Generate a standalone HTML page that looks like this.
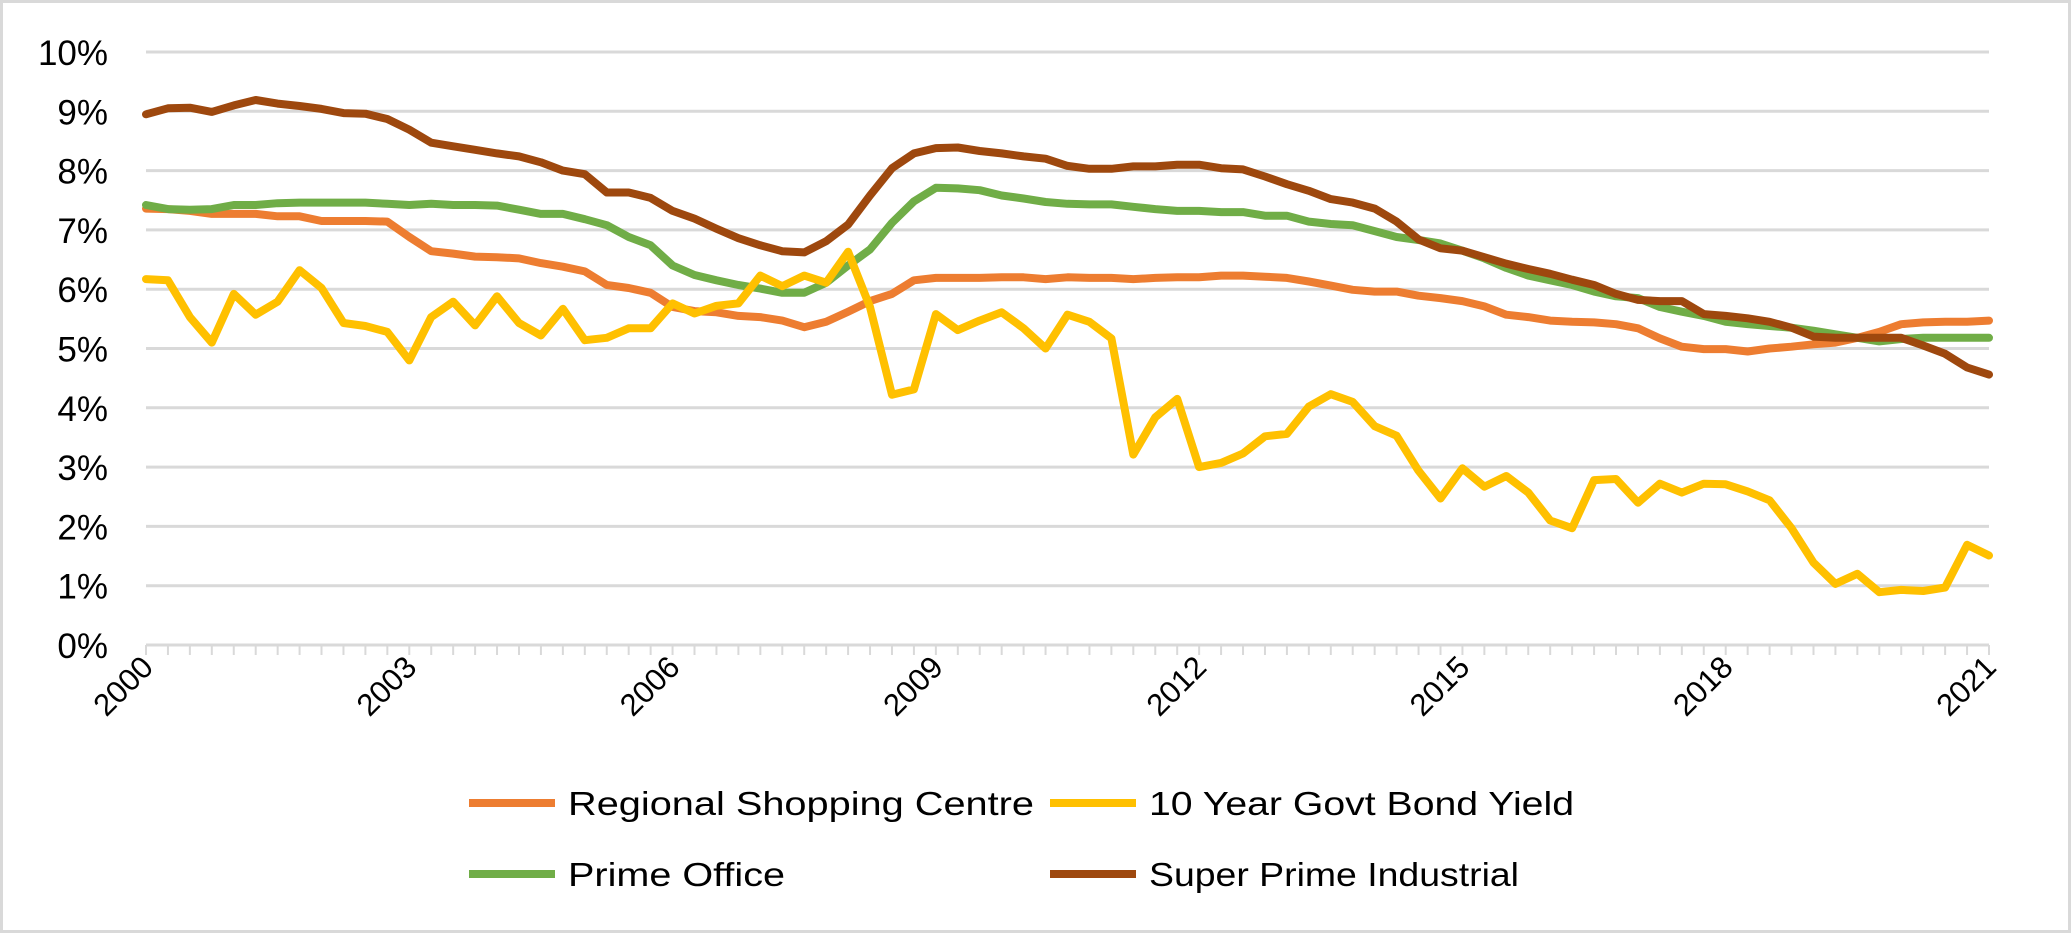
<!DOCTYPE html>
<html><head><meta charset="utf-8"><style>
html,body{margin:0;padding:0;background:#fff;}
svg{display:block;font-family:"Liberation Sans","DejaVu Sans",sans-serif;}
</style></head><body>
<svg id="chart" width="2071" height="933" viewBox="0 0 2071 933" xmlns="http://www.w3.org/2000/svg">
<rect x="1.5" y="1.5" width="2068" height="930" fill="#fff" stroke="#d9d9d9" stroke-width="3"/>
<g id="grid"></g><g id="axes"></g><g id="lines"></g><g id="legend"></g>
</svg>
<script>
const yTicks = [0,1,2,3,4,5,6,7,8,9,10];
const yearLabels = ["2000","2003","2006","2009","2012","2015","2018","2021"];
const seriesNames = ["Regional Shopping Centre","10 Year Govt Bond Yield","Prime Office","Super Prime Industrial"];
const regional = [7.36,7.35,7.32,7.27,7.27,7.27,7.23,7.23,7.15,7.15,7.15,7.14,6.88,6.64,6.6,6.55,6.54,6.52,6.44,6.38,6.3,6.07,6.02,5.94,5.7,5.63,5.61,5.55,5.53,5.47,5.36,5.45,5.62,5.8,5.92,6.15,6.19,6.19,6.19,6.2,6.2,6.17,6.2,6.19,6.19,6.17,6.19,6.2,6.2,6.23,6.23,6.21,6.19,6.13,6.06,5.99,5.96,5.96,5.89,5.85,5.8,5.71,5.57,5.53,5.47,5.45,5.44,5.41,5.34,5.17,5.03,4.99,4.99,4.95,5.0,5.03,5.07,5.1,5.18,5.28,5.41,5.44,5.45,5.45,5.47];
const bond = [6.17,6.15,5.53,5.1,5.92,5.57,5.79,6.32,6.02,5.43,5.38,5.28,4.8,5.53,5.79,5.39,5.88,5.43,5.22,5.67,5.14,5.18,5.34,5.34,5.76,5.59,5.72,5.76,6.23,6.05,6.23,6.11,6.63,5.7,4.22,4.31,5.58,5.31,5.47,5.61,5.34,5.0,5.57,5.45,5.17,3.21,3.84,4.15,3.0,3.07,3.23,3.52,3.56,4.02,4.23,4.1,3.69,3.53,2.94,2.47,2.98,2.67,2.85,2.57,2.1,1.97,2.78,2.8,2.4,2.72,2.57,2.72,2.71,2.59,2.44,1.97,1.39,1.03,1.2,0.89,0.93,0.91,0.97,1.69,1.51];
const office = [7.42,7.35,7.34,7.35,7.42,7.42,7.45,7.46,7.46,7.46,7.46,7.44,7.42,7.44,7.42,7.42,7.41,7.34,7.27,7.27,7.18,7.08,6.88,6.74,6.4,6.24,6.15,6.07,6.01,5.94,5.94,6.11,6.4,6.67,7.12,7.48,7.71,7.7,7.67,7.58,7.53,7.47,7.44,7.43,7.43,7.39,7.35,7.32,7.32,7.3,7.3,7.24,7.24,7.14,7.1,7.08,6.98,6.88,6.83,6.77,6.65,6.52,6.36,6.23,6.15,6.07,5.96,5.88,5.85,5.7,5.62,5.55,5.45,5.41,5.38,5.35,5.3,5.24,5.18,5.12,5.16,5.18,5.18,5.18,5.18];
const industrial = [8.95,9.05,9.06,8.99,9.1,9.19,9.13,9.09,9.04,8.97,8.96,8.87,8.69,8.47,8.41,8.35,8.29,8.24,8.14,8.0,7.94,7.63,7.63,7.54,7.32,7.19,7.02,6.86,6.74,6.64,6.62,6.81,7.09,7.58,8.04,8.29,8.38,8.39,8.33,8.29,8.24,8.2,8.08,8.03,8.03,8.07,8.07,8.1,8.1,8.04,8.02,7.9,7.77,7.66,7.52,7.46,7.36,7.14,6.84,6.69,6.65,6.54,6.43,6.34,6.26,6.16,6.07,5.92,5.82,5.8,5.8,5.58,5.55,5.51,5.45,5.35,5.2,5.18,5.18,5.18,5.18,5.05,4.91,4.68,4.56];

const NS="http://www.w3.org/2000/svg";
const X0=146, X1=1989, Y0=645, Y1=52, N=84;
function xs(i){return X0+(X1-X0)*i/N;}
function ys(v){return Y0-(Y0-Y1)*v/10;}
function mk(tag,attrs,parent){const e=document.createElementNS(NS,tag);for(const k in attrs)e.setAttribute(k,attrs[k]);parent.appendChild(e);return e;}
const grid=document.getElementById('grid'), axes=document.getElementById('axes'), lines=document.getElementById('lines'), legend=document.getElementById('legend');

yTicks.forEach(t=>{
  if(t>0){const g=mk('line',{x1:X0,x2:X1,y1:ys(t),y2:ys(t),stroke:'#d9d9d9','stroke-width':3},grid);
  
  }
  const l=mk('text',{x:108,y:ys(t)+13,'text-anchor':'end','font-size':35,fill:'#000'},axes);
  l.textContent=t+'%';
  
  
});
const ax=mk('line',{x1:X0,x2:X1,y1:Y0,y2:Y0,stroke:'#d9d9d9','stroke-width':3},axes);


for(let i=0;i<=N;i++){
  const tk=mk('line',{x1:xs(i),x2:xs(i),y1:Y0,y2:Y0+10,stroke:'#d9d9d9','stroke-width':2},axes);
  
  
}
yearLabels.forEach((lab,k)=>{
  const x=xs(k*12);
  const t=mk('text',{'text-anchor':'end','font-size':31,fill:'#000',transform:`translate(${x+9},${Y0+24}) rotate(-45)`},axes);
  t.textContent=lab;
  
  
});

const series=[regional,bond,office,industrial];
const colors=['#ED7D31','#FFC000','#70AD47','#9E480E'];
const keys=['regional-shopping-centre','govt-bond-yield','prime-office','super-prime-industrial'];
[0,2,3,1].forEach(s=>{
  const d=series[s].map((v,i)=>(i?'L':'M')+xs(i).toFixed(1)+','+ys(v).toFixed(1)).join(' ');
  const p=mk('path',{d:d,fill:'none',stroke:colors[s],'stroke-width':8,'stroke-linejoin':'round','stroke-linecap':'round'},lines);
  
  
});

const legPos=[[469,803],[1050,803],[469,874],[1050,874]];
const legW=[466,425,217,370];
legPos.forEach((p,s)=>{
  const l=mk('line',{x1:p[0],x2:p[0]+86,y1:p[1],y2:p[1],stroke:colors[s],'stroke-width':8},legend);
  
  
  const t=mk('text',{x:p[0]+99,y:p[1]+12,'font-size':33,fill:'#000',textLength:legW[s],lengthAdjust:'spacingAndGlyphs'},legend);
  t.textContent=seriesNames[s];
  
  
});
</script>
</body></html>
